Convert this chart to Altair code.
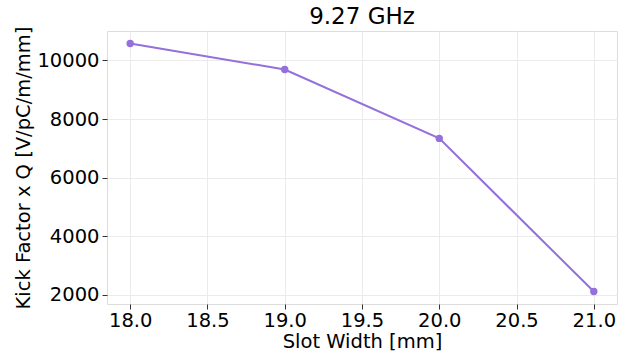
import altair as alt
import pandas as pd

slot_width = [18.0, 19.0, 20.0, 21.0]
kick_q = [10580, 9690, 7340, 2115]
x_ticks = [18.0, 18.5, 19.0, 19.5, 20.0, 20.5, 21.0]
y_ticks = [2000, 4000, 6000, 8000, 10000]

df = pd.DataFrame({"w": slot_width, "k": kick_q})
FONT = "DejaVu Sans"
COLOR = "#9370DB"
FS = 19.5

x = alt.X("w:Q", scale=alt.Scale(domain=[17.85, 21.15], nice=False, zero=False),
          axis=alt.Axis(title="Slot Width [mm]", values=x_ticks, format=".1f",
                        labelFontSize=FS, titleFontSize=FS, labelFont=FONT, titleFont=FONT,
                        labelColor="black", titleColor="black", titleFontWeight="normal",
                        tickColor="#333333", tickSize=5, labelPadding=2, titlePadding=3,
                        domain=False, gridColor="#ebebeb", labelFlush=False))
y = alt.Y("k:Q", scale=alt.Scale(domain=[1690, 11005], nice=False, zero=False),
          axis=alt.Axis(title="Kick Factor x Q [V/pC/m/mm]", values=y_ticks, format="d",
                        labelFontSize=FS, titleFontSize=FS, labelFont=FONT, titleFont=FONT,
                        labelColor="black", titleColor="black", titleFontWeight="normal",
                        tickColor="#333333", tickSize=5, labelPadding=3, titlePadding=3,
                        domain=False, gridColor="#ebebeb", labelFlush=False))

base = alt.Chart(df).encode(x=x, y=y)
line = base.mark_line(color=COLOR, strokeWidth=2)
pts = base.mark_circle(color=COLOR, size=55, opacity=1)

chart = (line + pts).properties(
    width=510, height=273,
    title=alt.TitleParams("9.27 GHz", font=FONT, fontSize=23, fontWeight="normal",
                          color="black", anchor="middle", offset=5, dy=8),
    autosize=alt.AutoSizeParams(type="none"),
    padding={"left": 107, "top": 31, "right": 6, "bottom": 51},
).configure_view(stroke="#333333", strokeWidth=1).configure(background="white")

chart.save("out.html", embed_options={"renderer": "svg", "actions": False})
